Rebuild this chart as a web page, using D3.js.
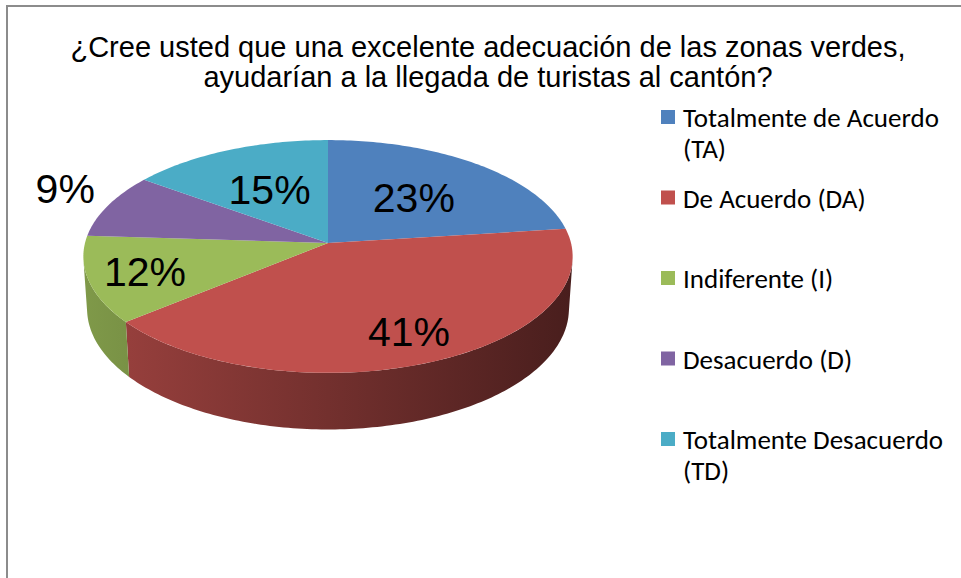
<!DOCTYPE html>
<html>
<head>
<meta charset="utf-8">
<script src="https://cdn.jsdelivr.net/npm/d3@7"></script>
<style>
  html, body { margin: 0; padding: 0; background: #fff; }
  svg { display: block; }
</style>
</head>
<body>
<div id="chart"></div>
<script>
// ---- data
const titleLines = ['¿Cree usted que una excelente adecuación de las zonas verdes,',
                    'ayudarían a la llegada de turistas al cantón?'];
const categories = ['Totalmente de Acuerdo (TA)', 'De Acuerdo (DA)', 'Indiferente (I)',
                    'Desacuerdo (D)', 'Totalmente Desacuerdo (TD)'];
const values = [23, 41, 12, 9, 15];
const palette = ['#4F81BD', '#C0504D', '#9BBB59', '#8064A2', '#4BACC6'];

const W = 961, H = 578;

// 3d pie geometry (excel style perspective)
const cx = 328, cy = 243, R = 243, thick = 60;
const tilt = 28.2 * Math.PI / 180, dist = 1850;
const DEG = Math.PI / 180;

function project(a, r, h) {
  let x = r * Math.sin(a), z = r * Math.cos(a);
  let camY = h * Math.cos(tilt) - z * Math.sin(tilt);
  let camZ = h * Math.sin(tilt) + z * Math.cos(tilt) + dist;
  let s = dist / camZ;
  return [cx + x * s, cy + camY * s];
}

function arcPts(a0, a1, r, h) {
  let n = Math.max(2, Math.ceil(Math.abs(a1 - a0) / DEG));
  return d3.range(n + 1).map(i => project(a0 + (a1 - a0) * i / n, r, h));
}

const color = d3.scaleOrdinal().domain(categories).range(palette);
const pie = d3.pie().sort(null).value(d => d.value);
const line = d3.line();

const data = categories.map((c, i) => ({ name: c, value: values[i] }));
const arcs = pie(data);

const svg = d3.select('#chart').append('svg')
  .attr('width', W).attr('height', H);

svg.append('rect').attr('width', W).attr('height', H).attr('fill', '#fff');

// chart border (runs off the right and bottom edges)
svg.append('path')
  .attr('d', `M7,${H + 2}V6H${W + 2}`)
  .attr('fill', 'none')
  .attr('stroke', '#8c8c8c')
  .attr('stroke-width', 2);

// title
svg.append('g').selectAll('text')
  .data(titleLines)
  .enter().append('text')
    .attr('x', 488)
    .attr('y', (d, i) => 57 + i * 30)
    .attr('text-anchor', 'middle')
    .style('font-family', 'Arial, "Liberation Sans", sans-serif')
    .style('font-size', '29px')
    .attr('fill', '#000')
    .text(d => d);

// side shading gradients
const defs = svg.append('defs');
arcs.forEach((d, i) => {
  let c = d3.rgb(color(d.data.name));
  let g = defs.append('linearGradient')
    .attr('id', 'side' + i)
    .attr('gradientUnits', 'userSpaceOnUse')
    .attr('x1', cx - R).attr('x2', cx + R)
    .attr('y1', 0).attr('y2', 0);
  [[0, 0.82], [0.5, 0.6], [1, 0.38]].forEach(([o, k]) => {
    g.append('stop').attr('offset', o)
      .attr('stop-color', d3.rgb(c.r * k, c.g * k, c.b * k).formatHex());
  });
});

const pieG = svg.append('g').attr('class', 'pie3d');

// visible part of outer wall
let vis = Math.acos(-R / (dist * Math.cos(tilt)));
let v0 = vis, v1 = 2 * Math.PI - vis;

arcs.forEach((d, i) => {
  let b0 = Math.max(d.startAngle, v0), b1 = Math.min(d.endAngle, v1);
  if (b1 <= b0) return;
  let pts = arcPts(b0, b1, R, 0).concat(arcPts(b1, b0, R, thick));
  pieG.append('path')
    .attr('d', line(pts) + 'Z')
    .attr('fill', `url(#side${i})`);
});

// top faces
arcs.forEach(d => {
  let pts = [project(0, 0, 0)].concat(arcPts(d.startAngle, d.endAngle, R, 0));
  pieG.append('path')
    .attr('d', line(pts) + 'Z')
    .attr('fill', color(d.data.name));
});

// percent labels
pieG.selectAll('text.pct')
  .data(arcs)
  .enter().append('text')
    .attr('class', 'pct')
    .attr('transform', d => {
      let mid = (d.startAngle + d.endAngle) / 2;
      let p;
      if (d.value < 10) p = project(mid, R * 1.2, -12);
      else p = project(mid, R * (Math.cos(mid) < 0 ? 0.77 : 0.56), 0);
      return `translate(${p[0]},${p[1]})`;
    })
    .attr('dy', '0.36em')
    .attr('text-anchor', 'middle')
    .style('font-family', 'Arial, "Liberation Sans", sans-serif')
    .style('font-size', '41px')
    .attr('fill', '#000')
    .text(d => d.value + '%');

// legend
const legend = svg.append('g').attr('class', 'legend');
const item = legend.selectAll('g')
  .data(categories)
  .enter().append('g')
    .attr('transform', (d, i) => `translate(661,${110 + i * 80.5})`);

item.append('rect')
  .attr('width', 14).attr('height', 14)
  .attr('fill', d => color(d));

item.each(function(d) {
  let t = d3.select(this).append('text')
    .attr('x', 22).attr('y', 17)
    .style('font-family', 'Carlito, Calibri, Lato, sans-serif')
    .style('font-size', '27px')
    .attr('fill', '#000');
  let words = d.split(' '), cur = [];
  let ts = t.append('tspan').attr('x', 22).attr('dy', 0);
  words.forEach(w => {
    cur.push(w);
    ts.text(cur.join(' '));
    if (ts.node().getComputedTextLength() > 274 && cur.length > 1) {
      cur.pop();
      ts.text(cur.join(' '));
      cur = [w];
      ts = t.append('tspan').attr('x', 22).attr('dy', 31).text(w);
    }
  });
});
</script>
</body>
</html>
